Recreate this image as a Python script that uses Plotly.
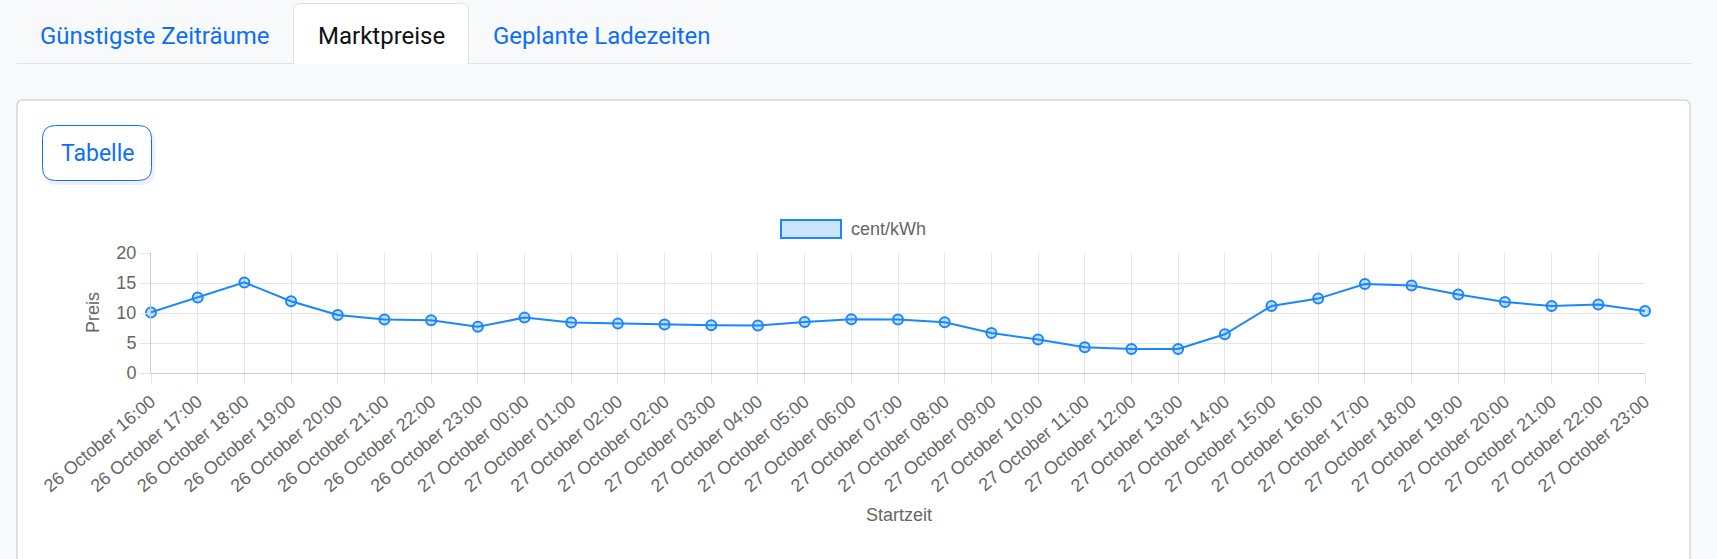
import plotly.graph_objects as go

# Marktpreise (cent/kWh) pro Startzeit - 27.10. hat wegen Zeitumstellung zwei Mal 02:00
startzeiten = [
    '26 October 16:00', '26 October 17:00', '26 October 18:00', '26 October 19:00',
    '26 October 20:00', '26 October 21:00', '26 October 22:00', '26 October 23:00',
    '27 October 00:00', '27 October 01:00', '27 October 02:00', '27 October 02:00',
    '27 October 03:00', '27 October 04:00', '27 October 05:00', '27 October 06:00',
    '27 October 07:00', '27 October 08:00', '27 October 09:00', '27 October 10:00',
    '27 October 11:00', '27 October 12:00', '27 October 13:00', '27 October 14:00',
    '27 October 15:00', '27 October 16:00', '27 October 17:00', '27 October 18:00',
    '27 October 19:00', '27 October 20:00', '27 October 21:00', '27 October 22:00',
    '27 October 23:00',
]
preise = [
    10.1, 12.6, 15.1, 11.95, 9.67, 8.9, 8.78, 7.7,
    9.23, 8.4, 8.23, 8.07, 7.95, 7.9, 8.5, 8.95,
    8.9, 8.45, 6.67, 5.57, 4.28, 4.0, 4.0, 6.45,
    11.17, 12.4, 14.83, 14.57, 13.07, 11.83, 11.17, 11.4,
    10.33,
]
y_ticks = [0, 5, 10, 15, 20]
tabs = ['Günstigste Zeiträume', 'Marktpreise', 'Geplante Ladezeiten']

W, H = 1717, 559
L, R, T, B = 151, 72, 253, 186
PW, PH = W - L - R, H - T - B

BLUE = '#1a86ff'
LINK = '#0d6efd'
GRID = '#e5e5e5'
TXT = '#666666'
BORDER = '#dee2e6'


def fx(px):
    return (px - L) / PW


def fy(py):
    return (H - B - py) / PH


def rrect(x0, y0, x1, y1, r):
    p = [
        f'M{fx(x0 + r)},{fy(y0)}', f'L{fx(x1 - r)},{fy(y0)}',
        f'Q{fx(x1)},{fy(y0)} {fx(x1)},{fy(y0 + r)}', f'L{fx(x1)},{fy(y1 - r)}',
        f'Q{fx(x1)},{fy(y1)} {fx(x1 - r)},{fy(y1)}', f'L{fx(x0 + r)},{fy(y1)}',
        f'Q{fx(x0)},{fy(y1)} {fx(x0)},{fy(y1 - r)}', f'L{fx(x0)},{fy(y0 + r)}',
        f'Q{fx(x0)},{fy(y0)} {fx(x0 + r)},{fy(y0)}', 'Z',
    ]
    return ' '.join(p)


def tab_path(x0, y0, x1, y1, r):
    p = [
        f'M{fx(x0)},{fy(y1)}', f'L{fx(x0)},{fy(y0 + r)}',
        f'Q{fx(x0)},{fy(y0)} {fx(x0 + r)},{fy(y0)}', f'L{fx(x1 - r)},{fy(y0)}',
        f'Q{fx(x1)},{fy(y0)} {fx(x1)},{fy(y0 + r)}', f'L{fx(x1)},{fy(y1)}',
    ]
    return ' '.join(p)


x_idx = list(range(len(startzeiten)))

fig = go.Figure()
fig.add_trace(
    go.Scatter(
        x = x_idx, y = preise, name = 'cent/kWh', mode = 'lines+markers',
        line = dict(color = BLUE, width = 2),
        marker = dict(size = 10, color = 'rgba(26,134,255,0.25)', line = dict(color = BLUE, width = 2)),
        cliponaxis = False, showlegend = False
    )
)

shapes = [
    # Tab-Leiste
    dict(type = 'line', xref = 'paper', yref = 'paper', x0 = fx(17), x1 = fx(1692), y0 = fy(63.5), y1 = fy(63.5),
         line = dict(color = BORDER, width = 1), layer = 'below'),
    dict(type = 'path', xref = 'paper', yref = 'paper', path = tab_path(293.5, 3.5, 468.5, 64, 7),
         fillcolor = 'white', line = dict(color = BORDER, width = 1), layer = 'below'),
    # Karte
    dict(type = 'path', xref = 'paper', yref = 'paper', path = rrect(17, 100, 1690, 640, 6),
         fillcolor = 'white', line = dict(color = '#d3d6da', width = 1.5), layer = 'below'),
    # Button mit Schatten
    dict(type = 'path', xref = 'paper', yref = 'paper', path = rrect(43, 129, 155, 185, 14),
         fillcolor = 'rgba(0,0,0,0.06)', line = dict(width = 0), layer = 'below'),
    dict(type = 'path', xref = 'paper', yref = 'paper', path = rrect(42.5, 125.5, 151.5, 180.5, 13),
         fillcolor = 'white', line = dict(color = LINK, width = 1), layer = 'below'),
    # Legende
    dict(type = 'rect', xref = 'paper', yref = 'paper', x0 = fx(781), x1 = fx(841), y0 = fy(220), y1 = fy(238),
         fillcolor = '#cce5ff', line = dict(color = BLUE, width = 2)),
]

annotations = [
    dict(text = tabs[0], x = fx(155), y = fy(36), font = dict(color = LINK, size = 24, family = 'Roboto')),
    dict(text = tabs[1], x = fx(381), y = fy(36), font = dict(color = '#111111', size = 24, family = 'Roboto')),
    dict(text = tabs[2], x = fx(602), y = fy(36), font = dict(color = LINK, size = 24, family = 'Roboto')),
    dict(text = 'Tabelle', x = fx(97), y = fy(153), font = dict(color = LINK, size = 23, family = 'Roboto')),
    dict(text = 'cent/kWh', x = fx(849), y = fy(229), xanchor = 'left', font = dict(color = TXT, size = 18)),
    dict(text = 'Preis', x = fx(93), y = fy(313), textangle = -90, font = dict(color = TXT, size = 18)),
    dict(text = 'Startzeit', x = fx(899), y = fy(515), font = dict(color = TXT, size = 18)),
]
for a in annotations:
    a.update(xref = 'paper', yref = 'paper', showarrow = False)
    a.setdefault('xanchor', 'center')
    a.setdefault('yanchor', 'middle')

fig.update_layout(
    width = W, height = H,
    margin = dict(l = L, r = R, t = T, b = B, pad = 0),
    paper_bgcolor = '#f8f9fa', plot_bgcolor = 'rgba(0,0,0,0)',
    font = dict(family = 'Liberation Sans, Arial, sans-serif', size = 18, color = TXT),
    shapes = shapes, annotations = annotations,
    xaxis = dict(
        range = [0, len(startzeiten) - 1], tickmode = 'array', tickvals = x_idx, ticktext = startzeiten,
        tickangle = -40, showgrid = True, gridcolor = GRID, zeroline = False,
        showline = True, linecolor = '#cccccc', ticks = 'outside', ticklen = 10, tickcolor = GRID,
        tickfont = dict(size = 18, color = TXT), fixedrange = True
    ),
    yaxis = dict(
        range = [0, 20], tickmode = 'array', tickvals = y_ticks, showgrid = True, gridcolor = GRID,
        zeroline = False, showline = True, linecolor = '#cccccc', ticks = 'outside', ticklen = 10,
        tickcolor = GRID, tickfont = dict(size = 18, color = TXT), fixedrange = True
    ),
)

fig.write_html(
    "out.html", config = {'displayModeBar': False},
    post_script = "document.body.style.margin='0';document.body.style.overflow='hidden';"
)
